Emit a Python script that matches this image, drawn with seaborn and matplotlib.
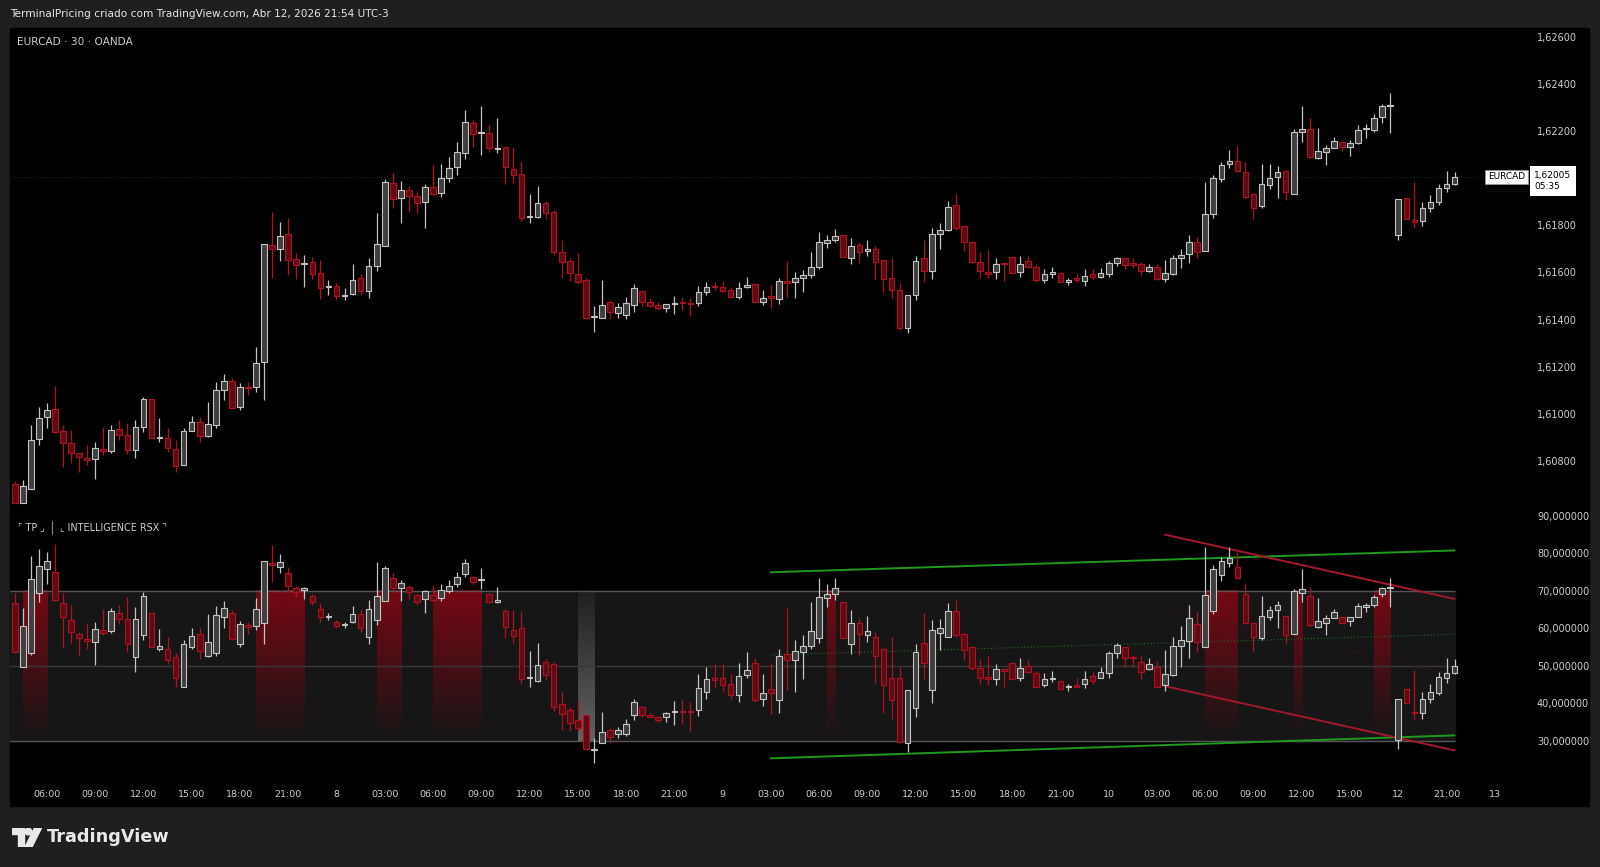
import numpy as np
import matplotlib
matplotlib.use("Agg")
import matplotlib.pyplot as plt
from matplotlib.colors import to_rgb
from matplotlib.lines import Line2D
from matplotlib.patches import Rectangle, Polygon, Circle
from matplotlib.transforms import blended_transform_factory
import seaborn as sns

# EURCAD 30m candles (OANDA), 180 bars, Apr 7 ~04:00 -> Apr 12 21:30 (UTC-3)
price_open = [
    1.60701, 1.60621, 1.60682, 1.60892, 1.60986, 1.61021, 1.60928, 1.60875, 1.60833, 1.60812,
    1.60807, 1.60851, 1.60843, 1.60935, 1.60911, 1.60847, 1.60943, 1.61063, 1.60897, 1.60897,
    1.60851, 1.60783, 1.60929, 1.60967, 1.60908, 1.60953, 1.61102, 1.61141, 1.61028, 1.61116,
    1.61113, 1.61222, 1.61717, 1.61700, 1.61762, 1.61656, 1.61636, 1.61646, 1.61597, 1.61539,
    1.61543, 1.61499, 1.61507, 1.61575, 1.61523, 1.61628, 1.61714, 1.61978, 1.61915, 1.61950,
    1.61926, 1.61898, 1.61964, 1.61936, 1.62002, 1.62046, 1.62106, 1.62233, 1.62192, 1.62193,
    1.62123, 1.62130, 1.62039, 1.62016, 1.61836, 1.61837, 1.61893, 1.61855, 1.61686, 1.61650,
    1.61592, 1.61568, 1.61410, 1.61408, 1.61474, 1.61427, 1.61420, 1.61462, 1.61522, 1.61476,
    1.61462, 1.61448, 1.61468, 1.61476, 1.61471, 1.61469, 1.61516, 1.61543, 1.61540, 1.61526,
    1.61497, 1.61539, 1.61550, 1.61476, 1.61499, 1.61488, 1.61565, 1.61558, 1.61575, 1.61589,
    1.61625, 1.61724, 1.61738, 1.61759, 1.61663, 1.61717, 1.61693, 1.61700, 1.61653, 1.61575,
    1.61526, 1.61366, 1.61505, 1.61660, 1.61606, 1.61762, 1.61780, 1.61886, 1.61795, 1.61731,
    1.61643, 1.61601, 1.61601, 1.61639, 1.61664, 1.61601, 1.61650, 1.61625, 1.61568, 1.61592,
    1.61599, 1.61561, 1.61575, 1.61565, 1.61594, 1.61580, 1.61592, 1.61639, 1.61660, 1.61639,
    1.61636, 1.61608, 1.61625, 1.61571, 1.61592, 1.61660, 1.61677, 1.61731, 1.61691, 1.61847,
    1.61997, 1.62059, 1.62074, 1.62025, 1.61932, 1.61882, 1.61971, 1.62004, 1.62031, 1.61933,
    1.62197, 1.62209, 1.62087, 1.62110, 1.62127, 1.62155, 1.62130, 1.62148, 1.62209, 1.62205,
    1.62261, 1.62306, 1.61759, 1.61915, 1.61821, 1.61819, 1.61875, 1.61898, 1.61957, 1.61974,
]
price_high = [
    1.60716, 1.60720, 1.60953, 1.61031, 1.61045, 1.61120, 1.60953, 1.60932, 1.60833, 1.60868,
    1.60882, 1.60946, 1.60953, 1.60974, 1.60960, 1.60974, 1.61073, 1.61063, 1.60984, 1.60942,
    1.60890, 1.60942, 1.60993, 1.60988, 1.61052, 1.61137, 1.61168, 1.61154, 1.61130, 1.61134,
    1.61285, 1.61721, 1.61858, 1.61816, 1.61830, 1.61681, 1.61674, 1.61667, 1.61653, 1.61568,
    1.61554, 1.61536, 1.61635, 1.61594, 1.61663, 1.61851, 1.61995, 1.62023, 1.61988, 1.61968,
    1.61943, 1.61974, 1.62056, 1.62059, 1.62091, 1.62155, 1.62289, 1.62247, 1.62304, 1.62226,
    1.62257, 1.62130, 1.62134, 1.62073, 1.61932, 1.61968, 1.61903, 1.61865, 1.61738, 1.61660,
    1.61681, 1.61578, 1.61459, 1.61568, 1.61483, 1.61469, 1.61497, 1.61553, 1.61522, 1.61493,
    1.61474, 1.61465, 1.61500, 1.61497, 1.61493, 1.61544, 1.61558, 1.61558, 1.61565, 1.61540,
    1.61561, 1.61582, 1.61554, 1.61526, 1.61547, 1.61575, 1.61650, 1.61601, 1.61611, 1.61686,
    1.61770, 1.61759, 1.61783, 1.61759, 1.61745, 1.61731, 1.61739, 1.61714, 1.61653, 1.61660,
    1.61554, 1.61505, 1.61670, 1.61738, 1.61790, 1.61809, 1.61903, 1.61932, 1.61795, 1.61734,
    1.61688, 1.61695, 1.61660, 1.61639, 1.61667, 1.61671, 1.61671, 1.61635, 1.61615, 1.61625,
    1.61599, 1.61578, 1.61597, 1.61615, 1.61615, 1.61618, 1.61649, 1.61667, 1.61663, 1.61660,
    1.61646, 1.61635, 1.61636, 1.61653, 1.61674, 1.61700, 1.61759, 1.61752, 1.61985, 1.62014,
    1.62070, 1.62120, 1.62138, 1.62070, 1.61936, 1.62059, 1.62059, 1.62053, 1.62035, 1.62209,
    1.62304, 1.62257, 1.62212, 1.62141, 1.62176, 1.62155, 1.62162, 1.62226, 1.62230, 1.62271,
    1.62313, 1.62361, 1.61910, 1.61915, 1.61985, 1.61900, 1.61929, 1.61974, 1.62031, 1.62025,
]
price_low = [
    1.60621, 1.60621, 1.60682, 1.60868, 1.60942, 1.60918, 1.60776, 1.60790, 1.60755, 1.60783,
    1.60724, 1.60826, 1.60833, 1.60890, 1.60829, 1.60812, 1.60925, 1.60897, 1.60882, 1.60837,
    1.60752, 1.60783, 1.60928, 1.60882, 1.60904, 1.60939, 1.61059, 1.61024, 1.61017, 1.61080,
    1.61092, 1.61059, 1.61575, 1.61650, 1.61589, 1.61572, 1.61540, 1.61572, 1.61488, 1.61505,
    1.61483, 1.61481, 1.61505, 1.61505, 1.61493, 1.61606, 1.61714, 1.61872, 1.61809, 1.61855,
    1.61851, 1.61787, 1.61929, 1.61922, 1.61983, 1.62014, 1.62082, 1.62134, 1.62098, 1.62110,
    1.62106, 1.61974, 1.61978, 1.61819, 1.61809, 1.61833, 1.61827, 1.61674, 1.61578, 1.61564,
    1.61550, 1.61403, 1.61346, 1.61406, 1.61403, 1.61406, 1.61403, 1.61431, 1.61459, 1.61455,
    1.61441, 1.61431, 1.61423, 1.61441, 1.61417, 1.61459, 1.61505, 1.61526, 1.61516, 1.61493,
    1.61486, 1.61533, 1.61474, 1.61462, 1.61451, 1.61465, 1.61497, 1.61493, 1.61519, 1.61578,
    1.61615, 1.61705, 1.61728, 1.61667, 1.61635, 1.61639, 1.61671, 1.61568, 1.61516, 1.61490,
    1.61356, 1.61342, 1.61481, 1.61561, 1.61572, 1.61700, 1.61776, 1.61780, 1.61691, 1.61639,
    1.61578, 1.61575, 1.61572, 1.61565, 1.61592, 1.61582, 1.61620, 1.61561, 1.61557, 1.61578,
    1.61561, 1.61547, 1.61561, 1.61544, 1.61571, 1.61578, 1.61582, 1.61629, 1.61615, 1.61618,
    1.61589, 1.61601, 1.61568, 1.61561, 1.61589, 1.61618, 1.61642, 1.61660, 1.61691, 1.61833,
    1.61983, 1.62042, 1.62028, 1.61917, 1.61827, 1.61875, 1.61954, 1.61917, 1.61908, 1.61933,
    1.62155, 1.62084, 1.62082, 1.62056, 1.62127, 1.62115, 1.62096, 1.62144, 1.62172, 1.62195,
    1.62233, 1.62190, 1.61738, 1.61827, 1.61790, 1.61795, 1.61858, 1.61886, 1.61940, 1.61971,
]
price_close = [
    1.60621, 1.60692, 1.60890, 1.60981, 1.61017, 1.60922, 1.60875, 1.60833, 1.60819, 1.60805,
    1.60854, 1.60843, 1.60932, 1.60911, 1.60847, 1.60946, 1.61063, 1.60897, 1.60901, 1.60854,
    1.60781, 1.60928, 1.60964, 1.60908, 1.60956, 1.61102, 1.61141, 1.61024, 1.61116, 1.61109,
    1.61215, 1.61721, 1.61700, 1.61755, 1.61653, 1.61632, 1.61642, 1.61592, 1.61533, 1.61543,
    1.61500, 1.61505, 1.61568, 1.61522, 1.61629, 1.61720, 1.61985, 1.61912, 1.61950, 1.61926,
    1.61893, 1.61964, 1.61932, 1.61999, 1.62042, 1.62110, 1.62240, 1.62186, 1.62197, 1.62127,
    1.62127, 1.62049, 1.62014, 1.61833, 1.61841, 1.61893, 1.61851, 1.61688, 1.61646, 1.61597,
    1.61561, 1.61408, 1.61415, 1.61462, 1.61434, 1.61452, 1.61469, 1.61533, 1.61476, 1.61459,
    1.61448, 1.61465, 1.61472, 1.61471, 1.61466, 1.61515, 1.61540, 1.61537, 1.61522, 1.61497,
    1.61536, 1.61547, 1.61476, 1.61490, 1.61490, 1.61565, 1.61557, 1.61578, 1.61589, 1.61622,
    1.61728, 1.61738, 1.61756, 1.61667, 1.61714, 1.61688, 1.61700, 1.61646, 1.61572, 1.61526,
    1.61363, 1.61505, 1.61650, 1.61606, 1.61762, 1.61780, 1.61879, 1.61790, 1.61731, 1.61646,
    1.61604, 1.61595, 1.61636, 1.61635, 1.61597, 1.61636, 1.61625, 1.61568, 1.61594, 1.61601,
    1.61561, 1.61568, 1.61568, 1.61585, 1.61582, 1.61597, 1.61639, 1.61660, 1.61632, 1.61632,
    1.61606, 1.61625, 1.61571, 1.61597, 1.61660, 1.61674, 1.61731, 1.61688, 1.61848, 1.61999,
    1.62056, 1.62073, 1.62031, 1.61922, 1.61875, 1.61974, 1.61999, 1.62028, 1.61943, 1.62197,
    1.62209, 1.62089, 1.62113, 1.62127, 1.62158, 1.62130, 1.62148, 1.62205, 1.62214, 1.62254,
    1.62304, 1.62311, 1.61910, 1.61827, 1.61816, 1.61872, 1.61898, 1.61957, 1.61974, 1.62005,
]

# "Intelligence RSX" drawn as candles
rsx_open = [
    66.6, 49.6, 53.3, 69.3, 75.7, 74.9, 66.8, 62.2, 58.6, 57.1,
    56.4, 59.5, 59.4, 64.0, 62.4, 52.3, 58.2, 64.0, 54.6, 54.6,
    52.3, 44.4, 54.9, 58.4, 52.7, 53.5, 62.9, 64.0, 55.8, 61.0,
    60.6, 61.5, 77.4, 76.2, 74.6, 70.8, 70.2, 68.6, 65.0, 63.1,
    61.7, 60.9, 61.7, 63.7, 57.8, 62.2, 67.3, 73.3, 70.6, 71.1,
    68.8, 67.7, 68.8, 68.0, 70.0, 71.8, 74.4, 73.7, 72.8, 69.1,
    67.1, 64.7, 59.5, 60.2, 46.7, 46.0, 51.1, 50.4, 39.8, 38.2,
    35.6, 36.9, 27.6, 29.4, 32.9, 31.8, 32.0, 36.9, 39.1, 36.9,
    36.3, 36.3, 37.8, 38.1, 38.0, 38.2, 43.1, 46.7, 46.7, 45.2,
    42.2, 47.6, 50.8, 41.1, 43.8, 40.9, 53.1, 51.5, 53.8, 55.3,
    57.3, 68.0, 69.1, 67.1, 55.8, 61.3, 58.2, 57.8, 54.6, 46.9,
    46.9, 29.5, 38.7, 56.2, 43.6, 58.8, 57.8, 64.7, 58.6, 54.9,
    49.3, 47.1, 46.4, 49.1, 50.8, 46.9, 50.0, 48.0, 44.9, 46.4,
    46.0, 44.3, 44.9, 45.3, 47.4, 46.9, 48.0, 53.3, 54.9, 52.4,
    51.1, 49.1, 49.8, 44.9, 47.6, 55.3, 56.6, 61.1, 54.9, 64.7,
    74.2, 77.4, 76.4, 69.1, 61.5, 57.3, 63.1, 64.9, 63.3, 58.6,
    69.5, 68.6, 60.4, 61.5, 62.6, 62.9, 61.9, 62.9, 65.7, 66.2,
    69.1, 70.7, 30.3, 43.8, 37.8, 37.4, 41.1, 42.9, 46.9, 48.0,
]
rsx_high = [
    69.3, 65.3, 79.2, 81.0, 80.2, 82.4, 69.3, 66.2, 59.1, 61.1,
    61.7, 65.0, 65.3, 66.2, 68.2, 65.6, 69.7, 64.0, 59.7, 57.6,
    53.5, 56.9, 60.0, 60.0, 63.7, 65.9, 67.3, 64.8, 62.0, 61.7,
    68.0, 78.0, 82.1, 79.8, 76.2, 71.2, 71.1, 69.1, 66.6, 64.0,
    62.2, 61.7, 65.9, 65.0, 67.5, 77.7, 76.6, 74.8, 72.8, 71.5,
    69.1, 70.2, 71.5, 71.8, 72.8, 75.1, 78.3, 73.7, 76.1, 69.5,
    71.1, 65.0, 64.8, 64.4, 54.0, 56.0, 51.7, 51.1, 43.1, 39.1,
    40.9, 36.9, 30.7, 37.8, 33.4, 33.8, 35.8, 41.2, 39.3, 37.4,
    36.6, 37.8, 40.7, 40.9, 40.5, 47.8, 49.8, 50.5, 50.5, 47.8,
    50.7, 53.6, 52.0, 47.8, 50.7, 54.6, 65.3, 57.0, 58.2, 67.1,
    73.3, 71.7, 73.5, 67.1, 64.8, 62.6, 63.3, 58.9, 54.8, 57.6,
    49.8, 43.6, 55.8, 64.1, 62.2, 62.4, 66.6, 67.5, 58.8, 55.1,
    51.7, 52.6, 50.5, 49.1, 50.8, 52.0, 51.5, 48.7, 48.0, 48.7,
    46.0, 45.3, 46.7, 48.7, 48.3, 49.8, 53.9, 56.2, 54.9, 52.9,
    52.6, 52.2, 51.4, 54.2, 57.6, 60.6, 66.2, 64.4, 81.5, 76.8,
    78.9, 81.5, 80.4, 71.7, 61.5, 68.6, 65.9, 67.3, 63.3, 70.4,
    75.7, 71.1, 68.0, 63.5, 65.0, 62.9, 62.9, 66.6, 66.8, 68.8,
    71.1, 73.5, 41.3, 43.8, 48.9, 43.1, 45.3, 48.4, 52.0, 51.7,
]
rsx_low = [
    53.5, 49.6, 52.9, 67.1, 71.8, 67.3, 55.1, 56.2, 52.9, 54.4,
    50.2, 58.2, 58.8, 61.1, 53.8, 48.4, 56.9, 54.9, 54.0, 50.5,
    44.4, 44.4, 54.6, 51.7, 52.4, 52.6, 60.0, 56.9, 55.1, 58.6,
    59.5, 55.8, 72.4, 74.8, 69.7, 68.4, 67.7, 66.2, 61.7, 62.2,
    60.2, 60.0, 61.5, 59.1, 55.8, 60.9, 67.3, 70.2, 67.3, 67.7,
    66.2, 64.1, 67.3, 67.3, 69.5, 71.1, 73.7, 71.8, 70.4, 66.8,
    66.8, 57.3, 56.0, 45.3, 44.4, 45.8, 46.2, 38.1, 32.9, 32.7,
    32.7, 27.6, 24.2, 29.4, 29.5, 30.7, 31.3, 35.6, 36.5, 36.3,
    35.1, 35.1, 34.2, 34.5, 32.7, 36.6, 41.3, 44.0, 43.4, 41.3,
    40.5, 46.7, 40.5, 39.3, 37.2, 37.5, 43.6, 43.1, 46.4, 54.6,
    56.2, 65.7, 67.5, 57.3, 53.1, 52.9, 56.4, 45.5, 37.5, 35.8,
    29.4, 27.2, 36.5, 46.4, 40.2, 54.2, 57.8, 57.6, 51.5, 48.9,
    45.2, 44.9, 44.9, 44.4, 46.2, 46.0, 48.0, 44.0, 44.3, 45.8,
    43.8, 43.4, 44.3, 44.0, 45.3, 46.9, 46.7, 52.0, 49.8, 49.8,
    46.4, 48.9, 44.3, 43.4, 47.3, 49.8, 52.2, 53.8, 54.9, 63.8,
    72.7, 76.4, 73.0, 61.3, 54.0, 57.0, 62.2, 60.0, 56.2, 58.6,
    67.1, 60.6, 60.2, 58.2, 62.6, 61.5, 60.6, 62.9, 64.4, 65.7,
    68.2, 65.6, 28.0, 40.2, 35.6, 35.8, 40.2, 42.2, 45.5, 47.8,
]
rsx_close = [
    53.8, 60.6, 73.0, 76.6, 78.0, 67.5, 62.9, 59.1, 57.3, 56.7,
    59.7, 58.8, 64.7, 62.4, 55.8, 62.4, 68.6, 54.9, 55.4, 51.5,
    46.7, 55.8, 57.9, 54.0, 56.4, 63.5, 65.3, 57.1, 61.1, 60.4,
    65.0, 78.0, 76.8, 77.7, 71.2, 69.7, 70.6, 67.1, 62.9, 63.3,
    60.6, 61.1, 63.7, 60.2, 65.0, 68.6, 76.1, 70.8, 72.1, 69.7,
    67.1, 69.9, 67.5, 70.2, 71.3, 73.7, 77.3, 72.4, 73.2, 67.1,
    67.5, 60.4, 57.9, 46.4, 47.1, 50.2, 47.6, 39.0, 37.2, 34.9,
    33.4, 27.8, 28.0, 32.3, 31.1, 32.9, 34.4, 40.5, 36.9, 36.5,
    35.6, 37.5, 38.1, 37.7, 37.6, 44.0, 46.4, 46.2, 44.9, 42.2,
    47.3, 48.9, 40.9, 42.9, 42.9, 52.6, 51.5, 53.9, 55.4, 59.4,
    68.4, 69.0, 70.6, 57.3, 61.3, 58.5, 59.3, 52.6, 44.9, 40.9,
    29.8, 43.6, 53.8, 50.8, 59.5, 60.2, 64.7, 58.2, 54.2, 49.3,
    46.9, 46.6, 49.1, 48.7, 46.4, 49.5, 48.3, 44.3, 46.5, 46.9,
    43.8, 44.7, 44.4, 46.5, 46.0, 48.3, 53.3, 55.5, 52.0, 52.0,
    48.4, 50.4, 44.3, 47.8, 55.4, 56.9, 62.8, 56.4, 68.8, 75.9,
    78.0, 78.6, 73.3, 61.5, 57.8, 63.3, 64.9, 66.2, 58.2, 69.9,
    70.4, 60.9, 62.0, 62.6, 64.2, 61.5, 62.9, 65.9, 66.2, 68.4,
    70.8, 71.1, 41.3, 40.2, 37.4, 41.3, 43.1, 47.1, 48.2, 50.0,
]

# x-axis labels, one every 6 bars starting at bar 4
time_labels = [
    "06:00", "09:00", "12:00", "15:00", "18:00", "21:00", "8",
    "03:00", "06:00", "09:00", "12:00", "15:00", "18:00", "21:00", "9",
    "03:00", "06:00", "09:00", "12:00", "15:00", "18:00", "21:00", "10",
    "03:00", "06:00", "09:00", "12:00", "15:00", "12", "21:00", "13",
]
price_ticks = [1.608, 1.610, 1.612, 1.614, 1.616, 1.618, 1.620, 1.622, 1.624, 1.626]
rsx_ticks = [30, 40, 50, 60, 70, 80, 90]

# bars where the RSX background is tinted (first bar, last bar)
overbought_spans = [(1, 4), (30, 36), (45, 48), (52, 58), (101, 102), (148, 152), (159, 160), (169, 171)]
oversold_spans = [(70, 72)]

# drawn trend lines on the RSX pane
channel_x = [94, 179]
channel_upper = [74.9, 80.7]
channel_lower = [25.4, 31.5]
channel_mid = [52.9, 58.4]
wedge_x = [143, 179]
wedge_upper = [84.9, 67.8]
wedge_lower = [44.6, 27.5]
wedge_mid = [64.8, 47.6]

# colours
OUTER_BG = "#1f1f1f"
TXT = "#cfcfcf"
BULL_FACE, BULL_EDGE = "#3f3f3f", "#c4c4c4"
BEAR_FACE, BEAR_EDGE = "#5e0b13", "#b0111f"
GREEN = "#1f9a1f"
RED = "#a3182a"

sns.set_style("dark", {"axes.facecolor": "black", "figure.facecolor": OUTER_BG})
plt.rcParams["font.family"] = ["DejaVu Sans", "Noto Sans CJK JP"]

W, H = 1600, 867
fig = plt.figure(figsize=(W / 100, H / 100), dpi=100, facecolor=OUTER_BG)


def fx(px):
    return px / W


def fy(py):
    return 1 - py / H


# black chart area behind both panes
fig.patches.append(Rectangle((fx(10), fy(806)), fx(1589) - fx(10), fy(27.5) - fy(806),
                             transform=fig.transFigure, color="black", zorder=-10))

ax1 = fig.add_axes([fx(10.2), fy(511), fx(1528.6) - fx(10.2), fy(27.5) - fy(511)])
ax2 = fig.add_axes([fx(10.2), fy(782), fx(1528.6) - fx(10.2), fy(514) - fy(782)])
ax1.set_zorder(2)
ax2.set_zorder(2)


def draw_candles(ax, o, h, l, c, width=0.7):
    o, h, l, c = map(np.asarray, (o, h, l, c))
    x = np.arange(len(o))
    up = c >= o
    edge = np.where(up, BULL_EDGE, BEAR_EDGE)
    face = np.where(up, BULL_FACE, BEAR_FACE)
    ax.vlines(x, l, h, colors=edge, lw=0.9, zorder=3)
    ax.bar(x, np.abs(c - o), bottom=np.minimum(o, c), width=width, color=face,
           edgecolor=edge, linewidth=0.8, zorder=4)


def gradient_column(ax, x0, x1, color, a_top, a_bottom):
    rgba = np.zeros((128, 1, 4))
    rgba[..., :3] = to_rgb(color)
    rgba[..., 3] = np.linspace(a_top, a_bottom, 128)[:, None]
    ax.imshow(rgba, extent=(x0, x1, 30, 70), origin="upper", aspect="auto",
              interpolation="bilinear", zorder=1)


n = len(price_close)
last = price_close[-1]

# ---- price pane ----
ax1.axhline(last, color="#262626", lw=0.8, ls=(0, (1, 2)), zorder=1)
draw_candles(ax1, price_open, price_high, price_low, price_close)

# ---- RSX pane ----
ax2.fill_between([-1, n - 1], 30, 70, color="#161616", zorder=0.5)
ax2.hlines([70, 30], -1, n - 1, colors="#555555", lw=1.0, zorder=1.2)
ax2.hlines([50], -1, n - 1, colors="#383838", lw=1.0, zorder=1.2)
for a, b in overbought_spans:
    gradient_column(ax2, a, b, "#820612", 0.9, 0.0)
for a, b in oversold_spans:
    gradient_column(ax2, a, b, "#cfcfcf", 0.05, 0.42)

sns.lineplot(x=channel_x, y=channel_upper, ax=ax2, color=GREEN, lw=1.4, zorder=2, legend=False)
sns.lineplot(x=channel_x, y=channel_lower, ax=ax2, color=GREEN, lw=1.4, zorder=2, legend=False)
ax2.plot(channel_x, channel_mid, color="#1d6e1d", lw=0.8, ls=(0, (1, 2)), zorder=2)
sns.lineplot(x=wedge_x, y=wedge_upper, ax=ax2, color=RED, lw=1.4, zorder=2, legend=False)
sns.lineplot(x=wedge_x, y=wedge_lower, ax=ax2, color=RED, lw=1.4, zorder=2, legend=False)
ax2.plot(wedge_x, wedge_mid, color="#4a1018", lw=0.8, ls=(0, (1, 2)), zorder=2)

draw_candles(ax2, rsx_open, rsx_high, rsx_low, rsx_close)

# ---- axes styling ----
for ax in (ax1, ax2):
    ax.set_facecolor("black")
    ax.set_xlim(-0.56, 188.2)
    ax.grid(False)
    for s in ax.spines.values():
        s.set_visible(False)
    ax.yaxis.tick_right()
    ax.tick_params(axis="y", length=0, pad=6, labelsize=7, colors=TXT)

ax1.set_ylim(1.60588, 1.62639)
ax1.set_yticks(price_ticks)
ax1.set_yticklabels([f"{v:.5f}".replace(".", ",") for v in price_ticks])
ax1.set_xticks([])

ax2.set_ylim(19.1, 90.4)
ax2.set_yticks(rsx_ticks)
ax2.set_yticklabels([f"{v:.6f}".replace(".", ",") for v in rsx_ticks])
tick_bars = np.arange(4, 4 + 6 * len(time_labels), 6)
ax2.set_xticks(tick_bars)
ax2.set_xticklabels(time_labels)
ax2.tick_params(axis="x", length=0, pad=6, labelsize=6.8, colors=TXT)

# hide the axis tick label that sits under the live price box
for lbl in ax1.get_yticklabels():
    if lbl.get_text() == "1,62000":
        lbl.set_visible(False)

# last price labels
trans = blended_transform_factory(ax1.transAxes, ax1.transData)
ax1.text(0.9975, last, "EURCAD", transform=trans, ha="right", va="center", fontsize=6.5,
         color="black", zorder=10,
         bbox=dict(boxstyle="square,pad=0.3", fc="white", ec="#9a9a9a", lw=0.5))
ax1.annotate("1,62005\n05:35", xy=(1.0, last), xycoords=trans, xytext=(4, 4.5),
             textcoords="offset points", ha="left", va="top", fontsize=6.5, color="black",
             linespacing=1.35, annotation_clip=False, zorder=10,
             bbox=dict(boxstyle="square,pad=0.5", fc="white", ec="none"))

# ---- titles / labels ----
fig.text(fx(10.2), fy(14.3), "TerminalPricing criado com TradingView.com, Abr 12, 2026 21:54 UTC-3",
         ha="left", va="center", fontsize=7.6, color="#e6e6e6")
fig.text(fx(17.3), fy(41.8), "EURCAD · 30 · OANDA", ha="left", va="center", fontsize=7.6,
         color=TXT, zorder=5)
fig.text(fx(18), fy(527.5), "⌜ TP ⌟", ha="left", va="center", fontsize=6.9, color=TXT, zorder=5)
fig.add_artist(Line2D([fx(52), fx(52)], [fy(521), fy(534)], color="#8a8a8a", lw=0.8,
                      transform=fig.transFigure, zorder=5))
fig.text(fx(59.5), fy(527.5), "⌞ INTELLIGENCE RSX ⌝", ha="left", va="center", fontsize=6.9,
         color=TXT, zorder=5)

# TradingView logo
logo = fig.add_axes([fx(12), fy(847), fx(42) - fx(12), fy(828) - fy(847)])
logo.set_xlim(0, 30)
logo.set_ylim(0, 19)
logo.axis("off")
logo.add_patch(Polygon([(0, 19), (12, 19), (12, 0), (6, 0), (6, 13), (0, 13)], color="#e8e8e8"))
logo.add_patch(Circle((16.3, 15.5), 3.4, color="#e8e8e8"))
logo.add_patch(Polygon([(13, 0), (20, 0), (29.5, 19), (22.5, 19)], color="#e8e8e8"))
fig.text(fx(47), fy(837.5), "TradingView", ha="left", va="center", fontsize=12.7,
         fontweight="bold", color="#e8e8e8")

fig.savefig("out.png", dpi=100, facecolor=fig.get_facecolor())
